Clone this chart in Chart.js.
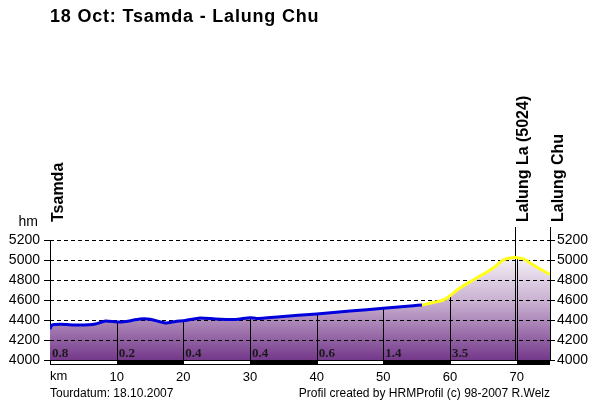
<!DOCTYPE html>
<html>
<head>
<meta charset="utf-8">
<title>18 Oct: Tsamda - Lalung Chu</title>
<script src="https://cdn.jsdelivr.net/npm/chart.js@4.4.1/dist/chart.umd.min.js"></script>
<style>
  html, body { margin: 0; padding: 0; background: #fff; }
  canvas { display: block; }
</style>
</head>
<body>
<canvas id="profile" width="600" height="400"></canvas>
<script>
// altitude profile
// blue = first part of the day, yellow = the climb over the pass
const kmBlue = [0, 0.3, 1.5, 4.5, 6.8, 8.3, 10, 11.3, 13.5, 15, 17.3, 18.8, 20.3, 22.5, 24.8, 27.8, 30, 31, 34.5, 40, 45, 50, 54.5, 55.8];
const elevBlue = [4310, 4350, 4357, 4350, 4360, 4390, 4380, 4385, 4410, 4408, 4370, 4385, 4395, 4420, 4410, 4405, 4423, 4415, 4433, 4460, 4490, 4517, 4543, 4550];
const kmYellow = [55.8, 57.5, 59, 60, 61.5, 64, 66.5, 68, 69, 69.8, 71, 72, 73.5, 75];
const elevYellow = [4550, 4575, 4600, 4643, 4720, 4820, 4920, 5000, 5020, 5024, 5012, 4970, 4910, 4855];

const yTicks = [4000, 4200, 4400, 4600, 4800, 5000, 5200];
const xTicks = [10, 20, 30, 40, 50, 60, 70];

// numbers printed at the start of every 10 km stretch
const segmentKm = [0, 10, 20, 30, 40, 50, 60];
const segmentLabels = ['0.8', '0.2', '0.4', '0.4', '0.6', '1.4', '3.5'];
const stripKm = [0, 10, 20, 30, 40, 50, 60, 70, 75];

const placeNames = ['Tsamda', 'Lalung La (5024)', 'Lalung Chu'];
const placeKm = [0, 69.8, 75];

const titleText = '18 Oct: Tsamda - Lalung Chu';
const footLeft = 'Tourdatum: 18.10.2007';
const footRight = 'Profil created by HRMProfil (c) 98-2007 R.Welz';

const SANS = '"Liberation Sans", Arial, sans-serif';

function toPoints(xs, ys) {
  return xs.map((v, i) => ({ x: v, y: ys[i] }));
}
const bluePts = toPoints(kmBlue, elevBlue);
const yellowPts = toPoints(kmYellow, elevYellow);
const allPts = bluePts.concat(yellowPts.slice(1));

function elevAt(km) {
  for (let i = 1; i < allPts.length; i++) {
    if (km <= allPts[i].x) {
      const a = allPts[i - 1], b = allPts[i];
      return a.y + (b.y - a.y) * (km - a.x) / (b.x - a.x);
    }
  }
  return allPts[allPts.length - 1].y;
}

function profileFill(context) {
  const area = context.chart.chartArea;
  if (!area) return '#a077ad';
  const g = context.chart.ctx.createLinearGradient(0, area.top + 8, 0, area.bottom);
  g.addColorStop(0, '#ffffff');
  g.addColorStop(0.5, '#c6acce');
  g.addColorStop(1, '#74388a');
  return g;
}

const profileExtras = {
  id: 'profileExtras',
  afterDatasetDraw(chart, args) {
    if (args.index !== 2) return;
    const { ctx, chartArea: a, scales: { x, y } } = chart;
    ctx.save();
    ctx.strokeStyle = '#000';
    ctx.lineWidth = 1;
    // dashed height lines over the filled area
    ctx.setLineDash([4, 3]);
    yTicks.forEach(v => {
      if (v === yTicks[0]) return;
      const py = Math.round(y.getPixelForValue(v)) + 0.5;
      ctx.beginPath();
      ctx.moveTo(a.left, py);
      ctx.lineTo(a.right, py);
      ctx.stroke();
    });
    ctx.setLineDash([]);
    // km lines, up to the profile
    xTicks.forEach(km => {
      const px = Math.round(x.getPixelForValue(km)) + 0.5;
      ctx.beginPath();
      ctx.moveTo(px, a.bottom);
      ctx.lineTo(px, y.getPixelForValue(elevAt(km)));
      ctx.stroke();
    });
    // place lines run up to the names
    placeKm.forEach((km, i) => {
      if (i === 0) return;
      const px = Math.round(x.getPixelForValue(km)) + 0.5;
      ctx.beginPath();
      ctx.moveTo(px, a.bottom);
      ctx.lineTo(px, 227);
      ctx.stroke();
    });
    ctx.restore();
  },
  afterDraw(chart) {
    const { ctx, chartArea: a, scales: { x } } = chart;
    ctx.save();

    // black / white strip under the profile
    for (let i = 0; i < stripKm.length - 1; i++) {
      const x0 = Math.round(x.getPixelForValue(stripKm[i]));
      const x1 = Math.round(x.getPixelForValue(stripKm[i + 1]));
      ctx.fillStyle = '#000';
      ctx.fillRect(x0, a.bottom, x1 - x0, 5);
      if (i % 2 === 0) {
        ctx.fillStyle = '#fff';
        ctx.fillRect(x0 + 1, a.bottom + 1, x1 - x0 - 1, 3);
      }
    }

    ctx.fillStyle = '#1a1a1a';
    ctx.font = 'bold 13px "Liberation Serif", "Times New Roman", serif';
    ctx.textAlign = 'left';
    ctx.textBaseline = 'alphabetic';
    segmentKm.forEach((km, i) => {
      ctx.fillText(segmentLabels[i], x.getPixelForValue(km) + 2, a.bottom - 3);
    });

    ctx.fillStyle = '#000';
    // place names, standing upright
    ctx.font = 'bold 16px ' + SANS;
    placeKm.forEach((km, i) => {
      ctx.save();
      ctx.translate(Math.round(x.getPixelForValue(km)) + 13, 222);
      ctx.rotate(-Math.PI / 2);
      ctx.fillText(placeNames[i], 0, 0);
      ctx.restore();
    });

    ctx.font = '14px ' + SANS;
    ctx.textAlign = 'right';
    ctx.fillText('hm', 38, 226);
    ctx.font = '13px ' + SANS;
    ctx.textAlign = 'left';
    ctx.fillText('km', a.left, 380);

    ctx.font = '12px ' + SANS;
    ctx.fillText(footLeft, a.left, 397);
    ctx.textAlign = 'right';
    ctx.fillText(footRight, a.right, 397);

    ctx.textAlign = 'left';
    ctx.font = 'bold 18px ' + SANS;
    if ('letterSpacing' in ctx) ctx.letterSpacing = '0.8px';
    ctx.fillText(titleText, 50, 22);
    ctx.restore();
  }
};

function yAxis(position, tickLen, pad) {
  return {
    type: 'linear',
    position: position,
    min: 4000,
    max: 5200,
    afterBuildTicks: s => { s.ticks = yTicks.map(v => ({ value: v })); },
    afterFit: s => { s.width = 50; },
    ticks: {
      color: '#000',
      padding: pad,
      font: { family: SANS, size: 14 },
      callback: v => String(v)
    },
    grid: {
      drawOnChartArea: false,
      drawTicks: true,
      tickLength: tickLen,
      tickColor: '#000',
      color: '#000'
    },
    border: { display: true, color: '#000', width: 1 }
  };
}

new Chart(document.getElementById('profile'), {
  type: 'line',
  data: {
    datasets: [
      {
        label: 'road',
        data: bluePts,
        borderColor: '#0000dc',
        borderWidth: 3,
        pointRadius: 0,
        tension: 0.2,
        fill: false,
        order: 1
      },
      {
        label: 'pass',
        data: yellowPts,
        borderColor: '#ffff1a',
        borderWidth: 3,
        pointRadius: 0,
        tension: 0.4,
        fill: false,
        order: 1
      },
      {
        label: 'profile',
        data: allPts,
        borderWidth: 0,
        pointRadius: 0,
        tension: 0.3,
        backgroundColor: profileFill,
        fill: 'start',
        order: 3
      }
    ]
  },
  options: {
    responsive: false,
    animation: false,
    layout: { padding: { top: 240, left: 0, right: 0, bottom: 0 } },
    plugins: {
      legend: { display: false },
      tooltip: { enabled: false }
    },
    scales: {
      x: {
        type: 'linear',
        min: 0,
        max: 75,
        afterBuildTicks: s => { s.ticks = xTicks.map(v => ({ value: v })); },
        afterFit: s => { s.height = 40; },
        ticks: {
          color: '#000',
          padding: 2,
          maxRotation: 0,
          autoSkip: false,
          font: { family: SANS, size: 13 }
        },
        grid: { display: false },
        border: { display: false }
      },
      y: yAxis('left', 6, 4),
      y2: yAxis('right', 5, 2)
    }
  },
  plugins: [profileExtras]
});
</script>
</body>
</html>
